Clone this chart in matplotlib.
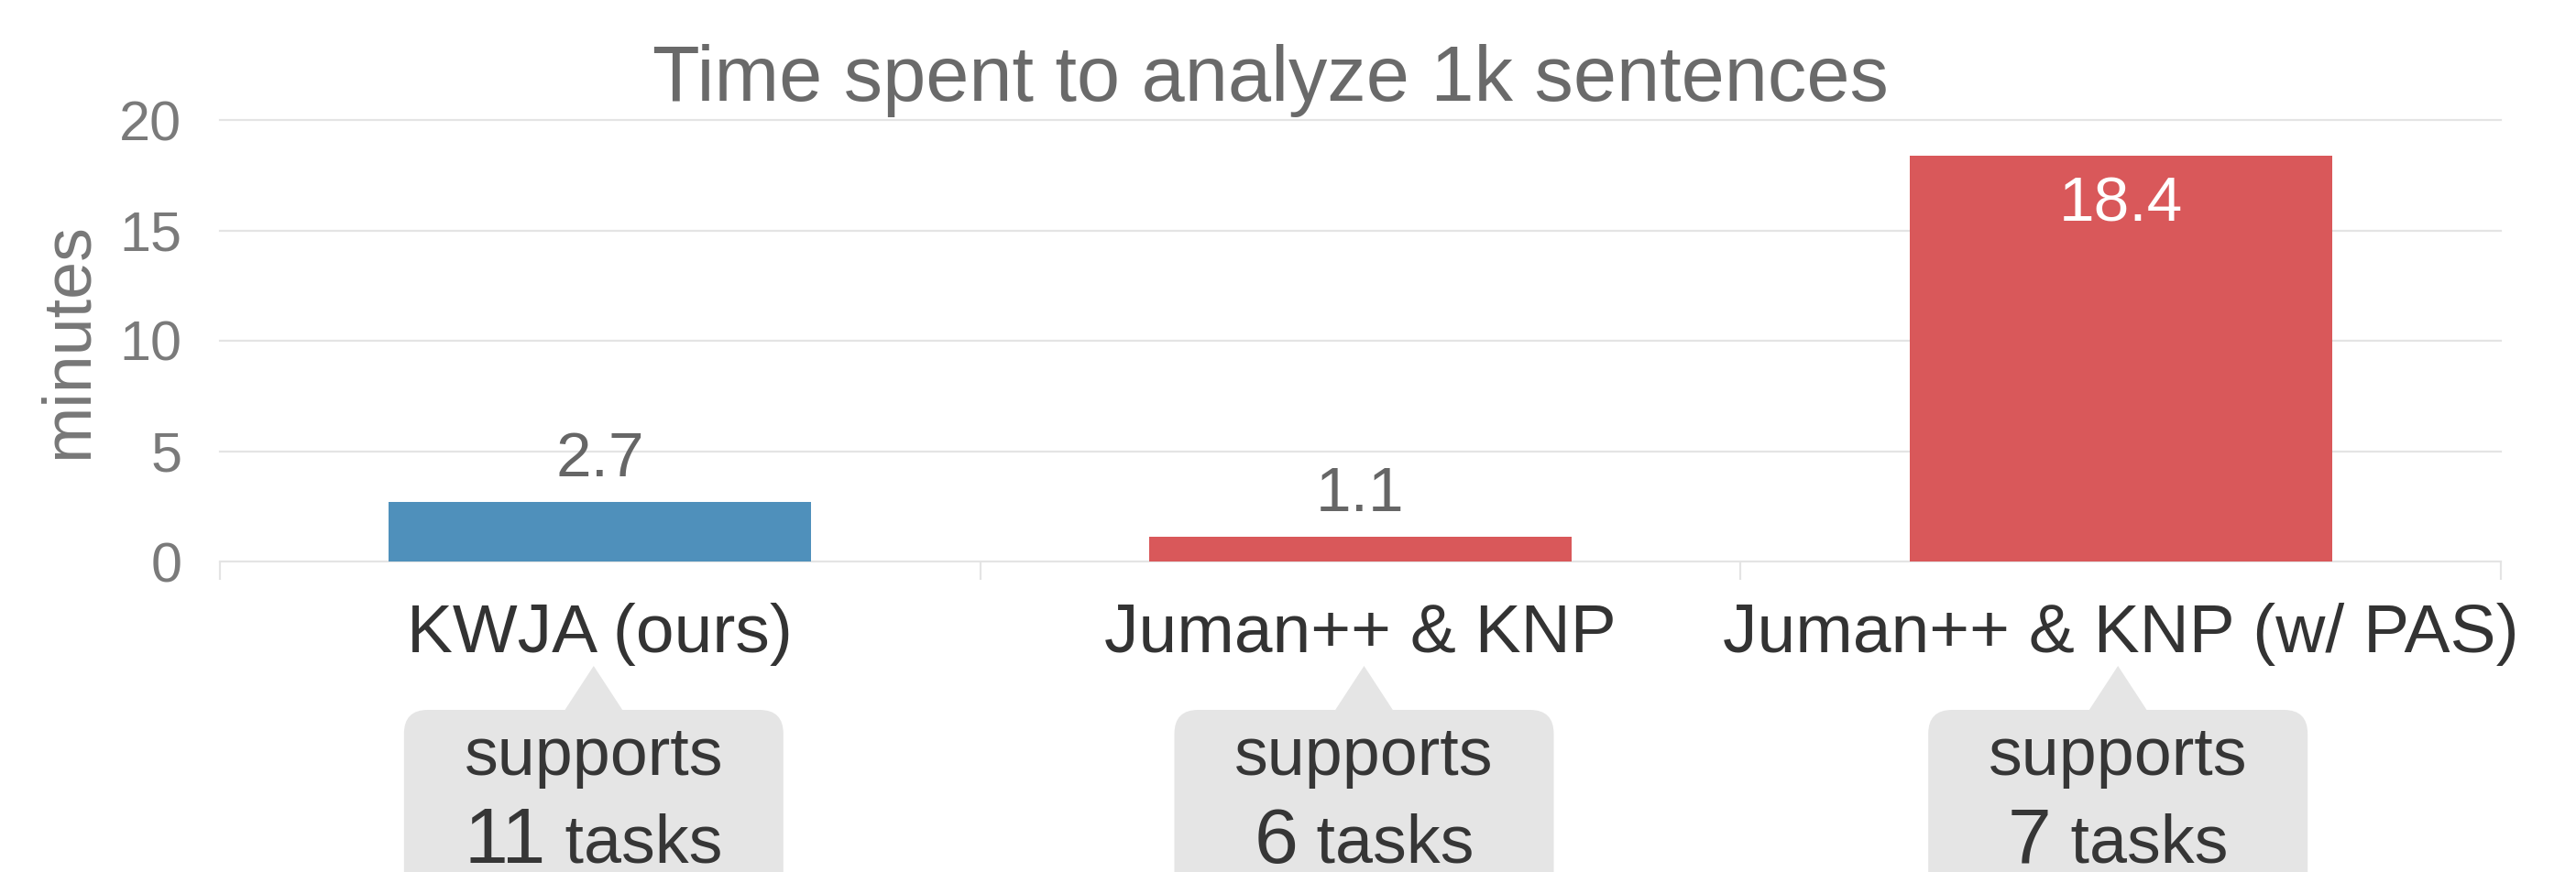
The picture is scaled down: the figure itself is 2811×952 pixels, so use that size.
import matplotlib
matplotlib.use("Agg")
import matplotlib.pyplot as plt
from matplotlib.patches import FancyBboxPatch, Polygon
from matplotlib.transforms import IdentityTransform

# ---- data ----
categories = ["KWJA (ours)", "Juman++ & KNP", "Juman++ & KNP (w/ PAS)"]
minutes = [2.7, 1.1, 18.4]
value_labels = ["2.7", "1.1", "18.4"]
task_counts = ["11", "6", "7"]
bar_colors = ["#4f90bb", "#d9585a", "#d9585a"]
yticks = [0, 5, 10, 15, 20]

plt.rcParams['font.family'] = ['Liberation Sans', 'DejaVu Sans']

W, H = 2811, 952
fig = plt.figure(figsize=(W / 100, H / 100), dpi=100)
ax = fig.add_axes([240 / W, (H - 613) / H, (2729 - 240) / W, (613 - 131) / H])

x = list(range(len(categories)))
ax.bar(x, minutes, width=0.556, color=bar_colors, zorder=3)
ax.set_xlim(-0.5, len(categories) - 0.5)
ax.set_ylim(0, 20)

for s in ax.spines.values():
    s.set_visible(False)

grid_c = "#e4e4e4"
for yv in yticks:
    ax.axhline(yv, color=grid_c, lw=1.6, zorder=1, clip_on=False)

ax.set_yticks(yticks)
ax.set_yticklabels([str(v) for v in yticks], fontsize=44, color="#7a7a7a")
ax.tick_params(axis='y', length=0, pad=30)

# x: boundary ticks (minor), no major labels
ax.set_xticks([])
ax.set_xticks([i - 0.5 for i in range(len(categories) + 1)], minor=True)
ax.tick_params(axis='x', which='minor', length=14.4, width=1.6, color=grid_c, labelbottom=False)

ax.set_ylabel("minutes", fontsize=53, color="#777777", labelpad=15)

fig.text(1386 / W, (H - 110) / H, "Time spent to analyze 1k sentences",
         ha='center', va='baseline', fontsize=61, color="#6a6a6a")

# value labels
for i, (v, lab) in enumerate(zip(minutes, value_labels)):
    if v > 10:
        ax.annotate(lab, xy=(i, v), xytext=(0, -72 / 1.389), textcoords='offset points',
                    ha='center', va='baseline', fontsize=50, color="white", zorder=4)
    else:
        ax.annotate(lab, xy=(i, v), xytext=(0, 28 / 1.389), textcoords='offset points',
                    ha='center', va='baseline', fontsize=50, color="#666666", zorder=4)

# category labels
for i, c in enumerate(categories):
    ax.annotate(c, xy=(i, 0), xycoords='data', xytext=(0, -99 / 1.389),
                textcoords='offset points', ha='center', va='baseline',
                fontsize=54, color="#333333", annotation_clip=False)

# callouts
fig.canvas.draw()
renderer = fig.canvas.get_renderer()
box_c = "#e5e5e5"
txt_c = "#363636"
box_w = 414
box_shift = [-7, 4, -3]  # small pixel nudges of each callout
for i, n in enumerate(task_counts):
    cx = ax.transData.transform((i, 0))[0] + box_shift[i]
    top = H - 775
    box = FancyBboxPatch((cx - box_w / 2, -60), box_w, top + 60,
                         boxstyle="round,pad=0,rounding_size=26",
                         transform=IdentityTransform(), fc=box_c, ec='none', zorder=1)
    fig.add_artist(box)
    tri = Polygon([(cx - 32, top - 1), (cx, H - 727), (cx + 32, top - 1)], closed=True,
                  transform=IdentityTransform(), fc=box_c, ec='none', zorder=1)
    fig.add_artist(tri)
    fig.text(cx / W, (H - 846) / H, "supports", ha='center', va='baseline',
             fontsize=53, color=txt_c, zorder=2)
    t1 = fig.text(0, 0, n, fontsize=62, color=txt_c, va='baseline', ha='left')
    t2 = fig.text(0, 0, " tasks", fontsize=53, color=txt_c, va='baseline', ha='left')
    w1 = t1.get_window_extent(renderer).width
    w2 = t2.get_window_extent(renderer).width
    start = cx - (w1 + w2) / 2
    yb = (H - 942) / H
    t1.set_position((start / W, yb))
    t2.set_position(((start + w1) / W, yb))

fig.savefig("out.png", dpi=100)
